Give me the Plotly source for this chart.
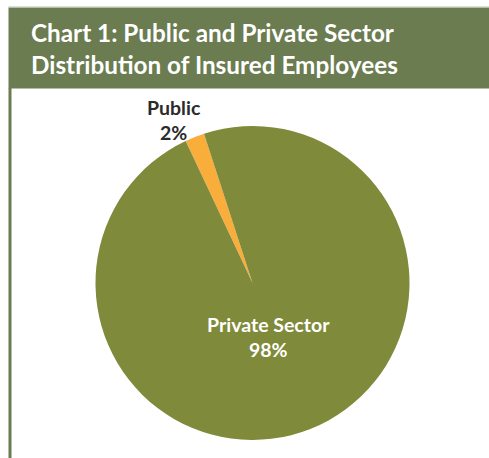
import plotly.graph_objects as go

# Share of insured employees by sector (%)
sectors = ["Public", "Private Sector"]
shares = [2, 98]
slice_colors = ["#f9ae3c", "#7f8a3a"]

W, H = 489, 458
HEADER_GREEN = "#6a7c50"

fig = go.Figure(
    go.Pie(
        labels=sectors,
        values=shares,
        sort=False,
        direction="clockwise",
        rotation=-25.2,
        marker=dict(colors=slice_colors, line=dict(width=0)),
        textinfo="none",
        hoverinfo="label+percent",
        showlegend=False,
        domain=dict(x=[95 / W, 410 / W], y=[1 - 440 / H, 1 - 126 / H]),
    )
)

shapes = [
    # header band
    dict(type="rect", xref="paper", yref="paper",
         x0=8.5 / W, x1=1.0, y0=1 - 88.5 / H, y1=1 - 7.5 / H,
         fillcolor=HEADER_GREEN, line=dict(width=0), layer="below"),
    # thin rule above the header
    dict(type="line", xref="paper", yref="paper",
         x0=8.5 / W, x1=1.0, y0=1 - 7 / H, y1=1 - 7 / H,
         line=dict(color="#b9bdb0", width=1)),
    # left border down the panel
    dict(type="line", xref="paper", yref="paper",
         x0=10 / W, x1=10 / W, y0=0, y1=1 - 88 / H,
         line=dict(color=HEADER_GREEN, width=3)),
]

annotations = [
    dict(text="<b>Chart 1: Public and Private Sector<br>Distribution of Insured Employees</b>",
         xref="paper", yref="paper", x=29 / W, y=1 - 49 / H,
         xanchor="left", yanchor="middle", align="left", showarrow=False,
         font=dict(family="Lato", size=24.3, color="white")),
    dict(text=f"<b>{sectors[0]}<br>{shares[0]}%</b>",
         xref="paper", yref="paper", x=174 / W, y=1 - 120 / H,
         xanchor="center", yanchor="middle", showarrow=False,
         font=dict(family="Lato", size=19.5, color="#2b2b2b")),
    dict(text=f"<b>{sectors[1]}<br>{shares[1]}%</b>",
         xref="paper", yref="paper", x=268 / W, y=1 - 337 / H,
         xanchor="center", yanchor="middle", showarrow=False,
         font=dict(family="Lato", size=19.5, color="white")),
]

fig.update_layout(
    width=W, height=H, autosize=False,
    margin=dict(l=0, r=0, t=0, b=0),
    paper_bgcolor="white", plot_bgcolor="white",
    shapes=shapes, annotations=annotations,
)

fig.write_html("out.html")
